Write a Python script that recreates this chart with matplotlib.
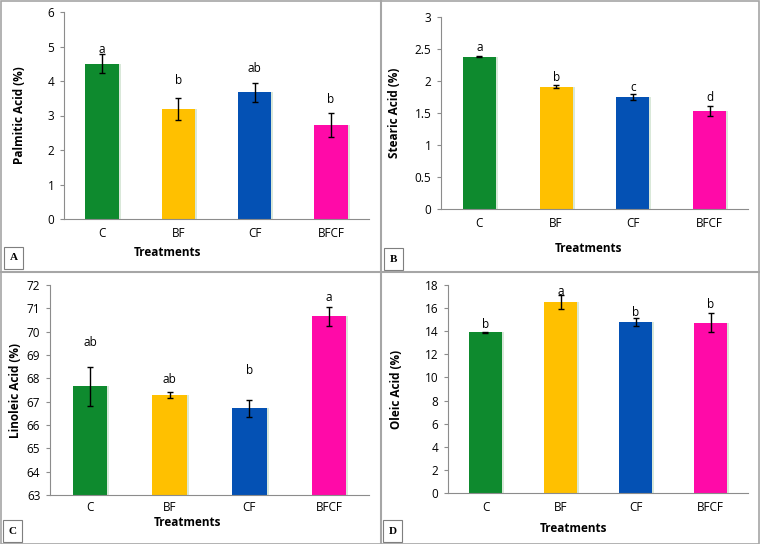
import matplotlib.pyplot as plt
from matplotlib.patches import Rectangle
from matplotlib.lines import Line2D

plt.rcParams['font.family'] = ['Open Sans', 'DejaVu Sans']

treatments = ["C", "BF", "CF", "BFCF"]
bar_colors = ["#0e8a2e", "#ffc000", "#0451b4", "#ff0aa8"]

palmitic = [4.50, 3.20, 3.67, 2.73]
palmitic_err = [0.27, 0.32, 0.27, 0.34]
palmitic_letters = ["a", "b", "ab", "b"]
palmitic_letter_y = [4.90, 4.00, 4.35, 3.47]

stearic = [2.38, 1.91, 1.75, 1.53]
stearic_err = [0.01, 0.02, 0.04, 0.08]
stearic_letters = ["a", "b", "c", "d"]
stearic_letter_y = [2.53, 2.05, 1.90, 1.74]

linoleic = [67.65, 67.30, 66.72, 70.65]
linoleic_err = [0.82, 0.13, 0.36, 0.42]
linoleic_letters = ["ab", "ab", "b", "a"]
linoleic_letter_y = [69.55, 67.95, 68.35, 71.45]

oleic = [13.90, 16.50, 14.80, 14.75]
oleic_err = [0.05, 0.60, 0.35, 0.85]
oleic_letters = ["b", "a", "b", "b"]
oleic_letter_y = [14.6, 17.4, 15.6, 16.3]

W, H = 760, 544
fig = plt.figure(figsize=(W / 100, H / 100), dpi=100)


def px_axes(left, top, right, bottom):
    return fig.add_axes([left / W, (H - bottom) / H, (right - left) / W, (bottom - top) / H])


def panel(ax, values, errs, letters, letter_y, ylabel, ylim, step, bar_w,
          ylab_x, xlab_x, xlab_y, xpad=6):
    x = range(len(treatments))
    # pale shadow on the right of each bar
    ax.bar([i + 0.025 for i in x], [v - ylim[0] for v in values], bar_w, bottom=ylim[0],
           color="#d9e8d9", zorder=1)
    ax.bar(x, [v - ylim[0] for v in values], bar_w, bottom=ylim[0],
           color=bar_colors, zorder=2)
    ax.errorbar(x, values, yerr=errs, fmt="none", ecolor="black", elinewidth=1,
                capsize=2.5, capthick=1, zorder=3)
    for i, (lt, ly) in enumerate(zip(letters, letter_y)):
        ax.text(i, ly, lt, ha="center", va="center", fontsize=8.5)
    ax.set_xlim(-0.5, len(treatments) - 0.5)
    ax.set_ylim(*ylim)
    ticks = []
    t = ylim[0]
    while t <= ylim[1] + 1e-9:
        ticks.append(round(t, 2))
        t += step
    ax.set_yticks(ticks)
    ax.set_yticklabels([f"{v:g}" for v in ticks])
    ax.set_xticks(list(x))
    ax.set_xticklabels(treatments)
    for s in ["top", "right"]:
        ax.spines[s].set_visible(False)
    for s in ["left", "bottom"]:
        ax.spines[s].set_color("#8c8c8c")
        ax.spines[s].set_linewidth(0.8)
    ax.tick_params(axis="y", length=3, color="#8c8c8c", labelsize=8.5, pad=4)
    ax.tick_params(axis="x", length=0, labelsize=8.5, pad=xpad)
    ax.set_ylabel(ylabel, fontsize=8.5, fontweight="bold")
    ax.yaxis.set_label_coords(ylab_x, 0.5)
    ax.yaxis.label.set_va("center")
    ax.set_xlabel("Treatments", fontsize=8.5, fontweight="bold")
    ax.xaxis.set_label_coords(xlab_x, xlab_y)
    ax.xaxis.label.set_va("center")


axA = px_axes(64, 12, 369, 219)
panel(axA, palmitic, palmitic_err, palmitic_letters, palmitic_letter_y,
      "Palmitic Acid (%)", (0, 6), 1, 0.44, (20 - 64) / 305, 0.34, (219 - 252) / 207)

axB = px_axes(441, 17, 748, 209)
panel(axB, stearic, stearic_err, stearic_letters, stearic_letter_y,
      "Stearic Acid (%)", (0, 3), 0.5, 0.43, (395 - 441) / 307, 0.48, (209 - 248) / 192)

axC = px_axes(50, 285, 369, 495)
panel(axC, linoleic, linoleic_err, linoleic_letters, linoleic_letter_y,
      "Linoleic Acid (%)", (63, 72), 1, 0.43, (15 - 50) / 319, 0.43, (495 - 523) / 210,
      xpad=4)

axD = px_axes(448, 285, 748, 493)
panel(axD, oleic, oleic_err, oleic_letters, oleic_letter_y,
      "Oleic Acid (%)", (0, 18), 2, 0.44, (397 - 448) / 300, 0.42, (493 - 528) / 208)

# panel borders
grey = "#a6a6a6"
fig.add_artist(Rectangle((0.5 / W, 0.5 / H), (W - 1.5) / W, (H - 1.5) / H,
                         transform=fig.transFigure, fill=False, edgecolor=grey, lw=1.2))
fig.add_artist(Line2D([381 / W, 381 / W], [0, 1], transform=fig.transFigure, color=grey, lw=1.5))
fig.add_artist(Line2D([0, 1], [(H - 272) / H, (H - 272) / H], transform=fig.transFigure,
                      color=grey, lw=1.5))

# panel letter boxes
for lab, (bx, by) in zip("ABCD", [(4, 247), (384, 248), (3, 520), (383, 520)]):
    fig.add_artist(Rectangle((bx / W, (H - by - 22) / H), 19 / W, 22 / H,
                             transform=fig.transFigure, fill=False, edgecolor="#7f7f7f", lw=0.8))
    fig.text((bx + 9.5) / W, (H - by - 11) / H, lab, ha="center", va="center",
             fontsize=8, fontweight="bold", family=["Liberation Serif", "DejaVu Serif"])

fig.savefig("out.png", dpi=100)
